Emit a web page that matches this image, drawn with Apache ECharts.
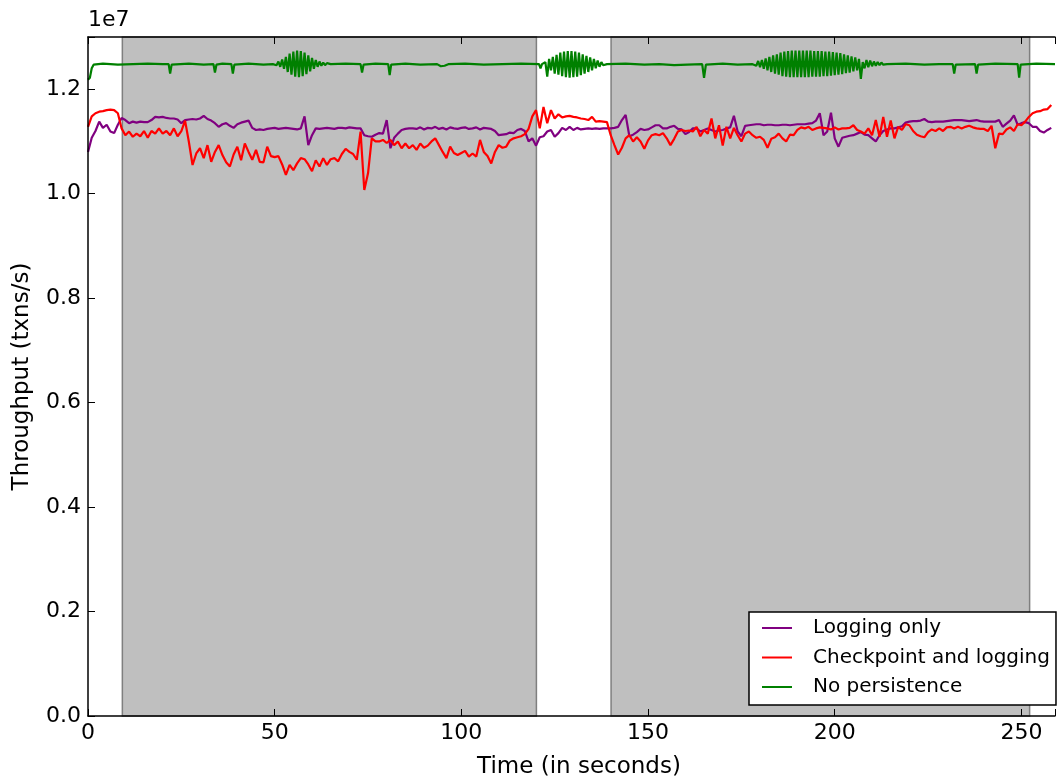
<!DOCTYPE html>
<html>
<head>
<meta charset="utf-8">
<script src="https://cdn.jsdelivr.net/npm/echarts@6/dist/echarts.min.js"></script>
<style>
  html, body { margin: 0; padding: 0; background: #fff; }
  #chart { width: 1058px; height: 778px; }
</style>
</head>
<body>
<div id="chart"></div>
<script>
// throughput in millions of txns/s, one sample per second (t = index)
const loggingOnly = [
  10.80, 11.07, 11.20, 11.38, 11.26, 11.32, 11.19, 11.16, 11.32, 11.45,
  11.41, 11.35, 11.38, 11.36, 11.38, 11.37, 11.37, 11.41, 11.47, 11.46,
  11.47, 11.45, 11.44, 11.44, 11.42, 11.35, 11.41, 11.42, 11.43, 11.42,
  11.44, 11.49, 11.43, 11.40, 11.35, 11.28, 11.33, 11.35, 11.30, 11.26,
  11.33, 11.36, 11.38, 11.40, 11.26, 11.22, 11.23, 11.22, 11.24, 11.25,
  11.26, 11.24, 11.25, 11.26, 11.25, 11.24, 11.23, 11.25, 11.48, 10.93,
  11.12, 11.25, 11.24, 11.25, 11.26, 11.25, 11.24, 11.26, 11.26, 11.25,
  11.27, 11.26, 11.25, 11.25, 11.12, 11.10, 11.09, 11.13, 11.16, 11.15,
  11.41, 10.87, 11.07, 11.15, 11.22, 11.24, 11.25, 11.25, 11.24, 11.27,
  11.23, 11.26, 11.25, 11.28, 11.24, 11.26, 11.23, 11.27, 11.25, 11.24,
  11.26, 11.27, 11.24, 11.25, 11.27, 11.23, 11.26, 11.25, 11.24, 11.20,
  11.12, 11.13, 11.14, 11.17, 11.16, 11.22, 11.24, 11.20, 11.00, 11.06,
  10.92, 11.08, 11.10, 11.19, 11.22, 11.09, 11.16, 11.26, 11.22, 11.28,
  11.22, 11.26, 11.23, 11.24, 11.25, 11.24, 11.25, 11.24, 11.25, 11.25,
  11.25, 11.26, 11.28, 11.41, 11.51, 11.10, 11.13, 11.18, 11.24, 11.22,
  11.23, 11.27, 11.31, 11.31, 11.25, 11.25, 11.28, 11.30, 11.24, 11.23,
  11.14, 11.18, 11.25, 11.25, 11.19, 11.22, 11.25, 11.22, 11.19, 11.21,
  11.22, 11.25, 11.27, 11.49, 11.19, 11.10, 11.30, 11.31, 11.32, 11.33,
  11.33, 11.31, 11.32, 11.32, 11.31, 11.31, 11.32, 11.32, 11.31, 11.32,
  11.33, 11.33, 11.33, 11.34, 11.35, 11.40, 11.54, 11.12, 11.19, 11.55,
  11.06, 10.90, 11.07, 11.09, 11.11, 11.12, 11.15, 11.18, 11.13, 11.12,
  11.06, 11.00, 11.12, 11.20, 11.23, 11.25, 11.25, 11.27, 11.29, 11.36,
  11.38, 11.39, 11.39, 11.40, 11.43, 11.38, 11.37, 11.38, 11.38, 11.38,
  11.39, 11.40, 11.41, 11.41, 11.41, 11.40, 11.39, 11.40, 11.41, 11.39,
  11.38, 11.38, 11.38, 11.38, 11.41, 11.28, 11.34, 11.40, 11.50, 11.32,
  11.35, 11.37, 11.35, 11.28, 11.28, 11.20, 11.17, 11.22, 11.26
];

const checkpointLogging = [
  11.28, 11.48, 11.54, 11.57, 11.58, 11.60, 11.61, 11.60, 11.54, 11.25,
  11.12, 11.19, 11.09, 11.15, 11.10, 11.20, 11.07, 11.20, 11.15, 11.25,
  11.15, 11.20, 11.12, 11.25, 11.10, 11.20, 11.40, 11.00, 10.55, 10.77,
  10.87, 10.68, 10.93, 10.61, 10.80, 10.93, 10.74, 10.60, 10.52, 10.75,
  10.90, 10.64, 10.96, 10.80, 10.65, 10.84, 10.61, 10.60, 10.90, 10.72,
  10.70, 10.72, 10.56, 10.36, 10.55, 10.45, 10.58, 10.68, 10.66, 10.56,
  10.43, 10.64, 10.52, 10.68, 10.55, 10.66, 10.68, 10.62, 10.76, 10.86,
  10.80, 10.76, 10.65, 11.19, 10.07, 10.39, 11.06, 11.00, 11.00, 11.03,
  10.97, 11.03, 10.93, 11.00, 10.87, 10.96, 10.87, 10.93, 10.84, 10.96,
  10.88, 10.92, 11.00, 11.06, 10.93, 10.80, 10.68, 10.90, 10.78, 10.74,
  10.78, 10.82, 10.71, 10.77, 10.71, 11.03, 10.80, 10.72, 10.58, 10.80,
  10.93, 10.88, 10.90, 11.02, 11.06, 11.08, 11.10, 11.14, 11.24, 11.48,
  11.60, 11.25, 11.66, 11.35, 11.60, 11.44, 11.52, 11.46, 11.48, 11.49,
  11.47, 11.46, 11.44, 11.43, 11.41, 11.47, 11.38, 11.39, 11.38, 11.37,
  11.12, 10.93, 10.75, 10.88, 11.06, 11.12, 11.00, 11.08, 11.00, 10.86,
  11.02, 11.12, 11.14, 11.12, 11.16, 11.06, 10.93, 11.05, 11.19, 11.22,
  11.20, 11.21, 11.19, 11.28, 11.10, 11.22, 11.15, 11.44, 11.06, 11.31,
  10.92, 11.28, 11.06, 11.26, 11.12, 11.00, 11.15, 11.19, 11.12, 11.07,
  11.09, 11.03, 10.88, 11.05, 11.08, 11.15, 11.06, 11.00, 11.13, 11.12,
  11.22, 11.27, 11.25, 11.28, 11.22, 11.25, 11.27, 11.26, 11.25, 11.23,
  11.27, 11.23, 11.25, 11.25, 11.26, 11.31, 11.22, 11.19, 11.15, 11.25,
  11.12, 11.41, 11.09, 11.47, 11.09, 11.40, 11.06, 11.28, 11.22, 11.33,
  11.31, 11.20, 11.13, 11.10, 11.08, 11.18, 11.23, 11.20, 11.25, 11.20,
  11.27, 11.28, 11.25, 11.28, 11.25, 11.28, 11.30, 11.27, 11.25, 11.24,
  11.24, 11.20, 11.30, 10.87, 11.15, 11.14, 11.23, 11.27, 11.20, 11.33,
  11.31, 11.38, 11.47, 11.54, 11.57, 11.58, 11.61, 11.62, 11.70
];

// [time (s), throughput (M txns/s)]
const noPersistence = [
  [0, 12.18], [0.5, 12.22], [1, 12.40], [1.5, 12.47], [4, 12.49], [8, 12.47], [12, 12.48],
  [16, 12.49], [20, 12.48], [21.6, 12.48], [22, 12.30], [22.4, 12.47], [27, 12.49],
  [31, 12.47], [33.6, 12.48], [34, 12.32], [34.4, 12.47], [36, 12.49], [38.4, 12.48],
  [38.8, 12.30], [39.2, 12.47], [43, 12.49], [47, 12.47], [49.5, 12.48],
  [50, 12.50], [50.5, 12.46], [51, 12.53], [51.5, 12.43], [52, 12.57], [52.5, 12.39],
  [53, 12.62], [53.5, 12.33], [54, 12.68], [54.5, 12.28], [55, 12.72], [55.5, 12.24],
  [56, 12.74], [56.5, 12.23], [57, 12.73], [57.5, 12.25], [58, 12.70], [58.5, 12.29],
  [59, 12.65], [59.5, 12.34], [60, 12.60], [60.5, 12.39], [61, 12.56], [61.5, 12.43],
  [62, 12.53], [62.5, 12.45], [63, 12.51], [63.5, 12.46], [64, 12.50], [64.5, 12.47],
  [65, 12.48], [69, 12.49], [73, 12.48], [73.4, 12.32], [73.8, 12.47], [77, 12.49],
  [80.4, 12.48], [80.8, 12.27], [81.2, 12.47], [85, 12.49], [89, 12.47], [93.5, 12.48],
  [94.5, 12.44], [95.5, 12.45], [96.5, 12.48], [101, 12.49], [106, 12.47], [111, 12.48],
  [116, 12.49], [120.8, 12.48], [121.2, 12.40], [121.6, 12.48], [122, 12.48],
  [122.5, 12.52], [123, 12.24], [123.5, 12.58], [124, 12.36], [124.5, 12.62], [125, 12.30],
  [125.5, 12.66], [126, 12.28], [126.5, 12.70], [127, 12.25], [127.5, 12.72], [128, 12.23],
  [128.5, 12.73], [129, 12.22], [129.5, 12.73], [130, 12.23], [130.5, 12.72], [131, 12.24],
  [131.5, 12.70], [132, 12.27], [132.5, 12.67], [133, 12.30], [133.5, 12.64], [134, 12.33],
  [134.5, 12.61], [135, 12.36], [135.5, 12.58], [136, 12.40], [136.5, 12.55], [137, 12.43],
  [137.5, 12.52], [138, 12.46], [138.5, 12.49], [139, 12.48], [144, 12.49], [149, 12.47],
  [153, 12.48], [157, 12.46], [160.5, 12.47], [164.5, 12.48], [165, 12.22], [165.5, 12.47],
  [170, 12.49], [174, 12.47], [178, 12.48],
  [178.5, 12.50], [179, 12.45], [179.5, 12.54], [180, 12.42], [180.5, 12.56], [181, 12.39],
  [181.5, 12.59], [182, 12.36], [182.5, 12.62], [183, 12.33], [183.5, 12.65], [184, 12.30],
  [184.5, 12.67], [185, 12.28], [185.5, 12.70], [186, 12.25], [186.5, 12.72], [187, 12.24],
  [187.5, 12.73], [188, 12.23], [188.5, 12.74], [189, 12.23], [189.5, 12.74], [190, 12.23],
  [190.5, 12.74], [191, 12.23], [191.5, 12.74], [192, 12.23], [192.5, 12.74], [193, 12.23],
  [193.5, 12.74], [194, 12.24], [194.5, 12.73], [195, 12.24], [195.5, 12.73], [196, 12.24],
  [196.5, 12.73], [197, 12.25], [197.5, 12.72], [198, 12.25], [198.5, 12.72], [199, 12.26],
  [199.5, 12.71], [200, 12.27], [200.5, 12.70], [201, 12.28], [201.5, 12.69], [202, 12.29],
  [202.5, 12.67], [203, 12.31], [203.5, 12.65], [204, 12.32], [204.5, 12.63], [205, 12.34],
  [205.5, 12.61], [206, 12.36], [206.5, 12.58], [207, 12.20], [207.5, 12.52], [208, 12.40],
  [208.5, 12.56], [209, 12.42], [209.5, 12.55], [210, 12.44], [210.5, 12.53], [211, 12.45],
  [211.5, 12.52], [212, 12.46], [212.5, 12.51], [213, 12.47], [213.5, 12.50], [214, 12.48],
  [219, 12.49], [224, 12.47], [228, 12.48], [231.6, 12.48], [232, 12.30], [232.4, 12.47],
  [237.6, 12.48], [238, 12.30], [238.4, 12.47], [243, 12.49], [249, 12.48], [249.4, 12.22],
  [249.8, 12.47], [254, 12.49], [259, 12.48]
];

const shadedSpans = [[9.2, 120.1], [140.1, 252.2]];
const seriesNames = ['Logging only', 'Checkpoint and logging', 'No persistence'];
const seriesColors = ['#800080', '#ff0000', '#008000'];
const xTicks = [0, 50, 100, 150, 200, 250];
const yTicks = [0, 2, 4, 6, 8, 10, 12];

const FONT = 'DejaVu Sans';
const chart = echarts.init(document.getElementById('chart'), null, { renderer: 'canvas' });

const axisLineStyle = { color: '#000', width: 1.5 };

chart.setOption({
  backgroundColor: '#fff',
  animation: false,
  grid: { left: 88, top: 37, width: 971, height: 679, containLabel: false },
  xAxis: [
    {
      type: 'value', min: 0, max: 259, interval: 50, z: 10,
      axisLine: { show: true, lineStyle: axisLineStyle },
      axisTick: { show: true, inside: true, length: 7, lineStyle: { color: '#000', width: 1 } },
      axisLabel: {
        fontFamily: FONT, fontSize: 22, color: '#000', margin: 6,
        formatter: (v) => (xTicks.includes(v) ? String(v) : ''),
      },
      splitLine: { show: false },
    },
    {
      type: 'value', position: 'top', min: 0, max: 259, interval: 50, z: 10,
      axisLine: { show: true, lineStyle: axisLineStyle },
      axisTick: { show: true, inside: true, length: 7, lineStyle: { color: '#000', width: 1 } },
      axisLabel: { show: false },
      splitLine: { show: false },
    },
  ],
  yAxis: {
    type: 'value', min: 0, max: 13, interval: 2, z: 10,
    axisLine: { show: true, lineStyle: axisLineStyle },
    axisTick: { show: true, inside: true, length: 7, lineStyle: { color: '#000', width: 1 } },
    axisLabel: {
      fontFamily: FONT, fontSize: 22, color: '#000', margin: 7,
      formatter: (v) => (yTicks.includes(v) ? (v / 10).toFixed(1) : ''),
    },
    splitLine: { show: false },
  },
  legend: {
    orient: 'vertical',
    left: 749, top: 612,
    padding: [6, 6, 8, 13],
    itemGap: 9.5,
    itemWidth: 30, itemHeight: 2,
    icon: 'rect',
    backgroundColor: '#fff',
    borderColor: '#000', borderWidth: 1.5, borderRadius: 0,
    textStyle: { fontFamily: FONT, fontSize: 20, color: '#000', lineHeight: 20, padding: [0, 0, 0, 16] },
    data: seriesNames,
  },
  graphic: [
    { type: 'text', left: 88, top: 9, style: { text: '1e7', font: `22px "${FONT}"`, fill: '#000' } },
    {
      type: 'text', x: 22, y: 376.5, rotation: Math.PI / 2,
      style: { text: 'Throughput (txns/s)', font: `23px "${FONT}"`, fill: '#000', align: 'center', verticalAlign: 'middle' },
    },
    {
      type: 'text', x: 579, y: 767,
      style: { text: 'Time (in seconds)', font: `23px "${FONT}"`, fill: '#000', align: 'center', verticalAlign: 'middle' },
    },
  ],
  series: [
    {
      name: seriesNames[0], type: 'line', showSymbol: false, symbol: 'none',
      data: loggingOnly.map((v, i) => [i, v]),
      lineStyle: { color: seriesColors[0], width: 2.2 },
      itemStyle: { color: seriesColors[0] },
      markArea: {
        silent: true,
        itemStyle: { color: '#bfbfbf', borderColor: '#7f7f7f', borderWidth: 1.5 },
        data: shadedSpans.map(([a, b]) => [{ xAxis: a }, { xAxis: b }]),
      },
      z: 2,
    },
    {
      name: seriesNames[1], type: 'line', showSymbol: false, symbol: 'none',
      data: checkpointLogging.map((v, i) => [i, v]),
      lineStyle: { color: seriesColors[1], width: 2.2 },
      itemStyle: { color: seriesColors[1] },
      z: 3,
    },
    {
      name: seriesNames[2], type: 'line', showSymbol: false, symbol: 'none',
      data: noPersistence,
      lineStyle: { color: seriesColors[2], width: 2.2 },
      itemStyle: { color: seriesColors[2] },
      z: 4,
    },
  ],
});
</script>
</body>
</html>
